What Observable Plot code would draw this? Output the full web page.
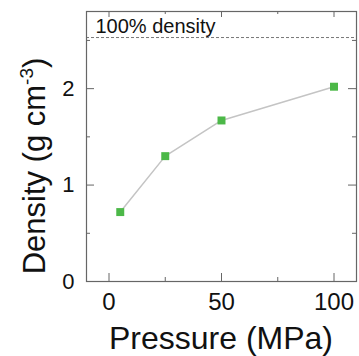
<!DOCTYPE html>
<html><head><meta charset="utf-8">
<script src="https://cdn.jsdelivr.net/npm/d3@7"></script>
<script src="https://cdn.jsdelivr.net/npm/@observablehq/plot@0.6"></script>
<style>body{margin:0;background:#fff;} svg{display:block;font-family:"Liberation Sans",Arial,sans-serif;}</style>
</head><body><div id="chart"></div>
<script>
const pressure = [5, 25, 50, 100];
const density = [0.72, 1.30, 1.67, 2.02];
const fullDensity = 2.53;
const xMajor = [0, 50, 100];
const xMinor = [25, 75];
const yMajor = [0, 1, 2];
const yMinor = [0.5, 1.5, 2.5];
const data = pressure.map((p, i) => ({p, d: density[i]}));
const frameColor = "#666";

const W = 359, H = 356, mL = 86, mR = 3, mT = 11, mB = 75;
const fw = W - mL - mR, fh = H - mT - mB;

const plot = Plot.plot({
  width: W, height: H,
  marginLeft: mL, marginRight: mR, marginTop: mT, marginBottom: mB,
  x: {domain: [-10, 110], label: null},
  y: {domain: [0, 2.8], label: null},
  style: {fontFamily: "Liberation Sans, Arial, sans-serif", color: "#111"},
  marks: [
    Plot.ruleY([fullDensity], {stroke: "#777", strokeDasharray: "3,2", strokeWidth: 1}),
    Plot.text(["100% density"], {frameAnchor: "top-left", dx: 9, dy: 7, textAnchor: "start", lineAnchor: "top", fontSize: 20, fill: "#111"}),
    Plot.line(data, {x: "p", y: "d", stroke: "#c4c4c4", strokeWidth: 1.5}),
    Plot.dot(data, {x: "p", y: "d", symbol: "square", r: 4.5, fill: "#4cb848", stroke: "none"}),
    Plot.axisX({ticks: xMajor, tickSize: 0, tickPadding: 11, fontSize: 24, tickFormat: d => d}),
    Plot.axisY({ticks: yMajor, tickSize: 0, tickPadding: 12, fontSize: 22, tickFormat: d => d}),
    // inward ticks (bottom/top/left/right)
    Plot.ruleX(xMajor, {insetTop: fh - 8, stroke: frameColor}),
    Plot.ruleX(xMinor, {insetTop: fh - 4, stroke: frameColor}),
    Plot.ruleX(xMajor, {insetBottom: fh - 6, stroke: frameColor}),
    Plot.ruleX(xMinor, {insetBottom: fh - 3, stroke: frameColor}),
    Plot.ruleY(yMajor, {insetRight: fw - 8, stroke: frameColor}),
    Plot.ruleY(yMinor, {insetRight: fw - 4, stroke: frameColor}),
    Plot.ruleY(yMajor, {insetLeft: fw - 8, stroke: frameColor}),
    Plot.ruleY(yMinor, {insetLeft: fw - 4, stroke: frameColor}),
    Plot.frame({stroke: frameColor, strokeWidth: 1.2})
  ]
});
document.getElementById("chart").appendChild(plot);

// axis titles (with superscript)
const svg = d3.select(plot);
svg.append("text")
  .attr("x", 221).attr("y", 349)
  .attr("text-anchor", "middle")
  .attr("font-size", 32).attr("fill", "#111")
  .text("Pressure (MPa)");
const yl = svg.append("text")
  .attr("transform", "translate(45,166) rotate(-90)")
  .attr("text-anchor", "middle")
  .attr("font-size", 31).attr("fill", "#111");
yl.append("tspan").text("Density (g cm");
yl.append("tspan").attr("font-size", 19).attr("dy", -12).text("-3");
yl.append("tspan").attr("dy", 12).text(")");
</script></body></html>
